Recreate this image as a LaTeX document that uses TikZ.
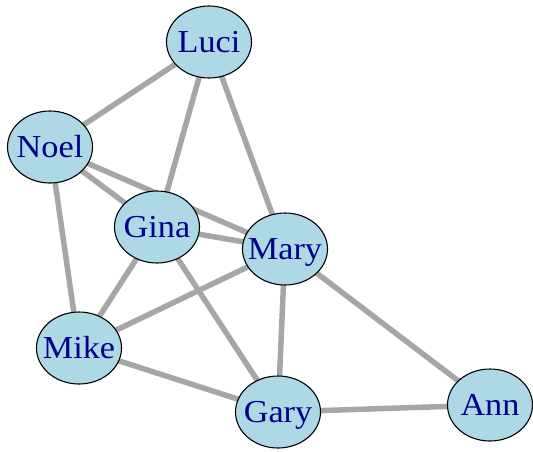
\documentclass[tikz,border=0pt]{standalone}
\usepackage{fontspec}
\setmainfont{Liberation Serif}
\usetikzlibrary{shapes.geometric,backgrounds}
\definecolor{vfill}{RGB}{173,216,230}
\definecolor{vtext}{RGB}{0,0,139}
\definecolor{edgegray}{RGB}{166,166,166}
\tikzset{
  vertex/.style={ellipse, draw=black, line width=1.1pt, fill=vfill,
    minimum width=85pt, minimum height=72pt, inner sep=0pt,
    label={[vlabel]center:\scalebox{1.07}[1]{#1}}},
  vlabel/.style={inner sep=0pt, text height=21pt, text depth=0pt,
    text=vtext, font=\fontsize{32}{32}\selectfont},
  tie/.style={draw=edgegray, line width=5.5pt}
}
\begin{document}
\begin{tikzpicture}[x=1pt,y=-1pt]
\useasboundingbox (0,0) rectangle (533,451);
\node[vertex=Luci] (luci) at (209,42)  {};
\node[vertex=Noel] (noel) at (50,147)  {};
\node[vertex=Gina] (gina) at (157,227) {};
\node[vertex=Mary] (mary) at (285,249) {};
\node[vertex=Mike] (mike) at (79,348)  {};
\node[vertex=Gary] (gary) at (278,412) {};
\node[vertex=Ann]  (ann)  at (490,405) {};
\begin{pgfonlayer}{background}
\draw[tie] (luci.center) -- (noel.center);
\draw[tie] (luci.center) -- (gina.center);
\draw[tie] (luci.center) -- (mary.center);
\draw[tie] (noel.center) -- (gina.center);
\draw[tie] (noel.center) -- (mary.center);
\draw[tie] (noel.center) -- (mike.center);
\draw[tie] (gina.center) -- (mary.center);
\draw[tie] (gina.center) -- (mike.center);
\draw[tie] (gina.center) -- (gary.center);
\draw[tie] (mary.center) -- (mike.center);
\draw[tie] (mary.center) -- (gary.center);
\draw[tie] (mary.center) -- (ann.center);
\draw[tie] (mike.center) -- (gary.center);
\draw[tie] (gary.center) -- (ann.center);
\end{pgfonlayer}
\end{tikzpicture}
\end{document}
